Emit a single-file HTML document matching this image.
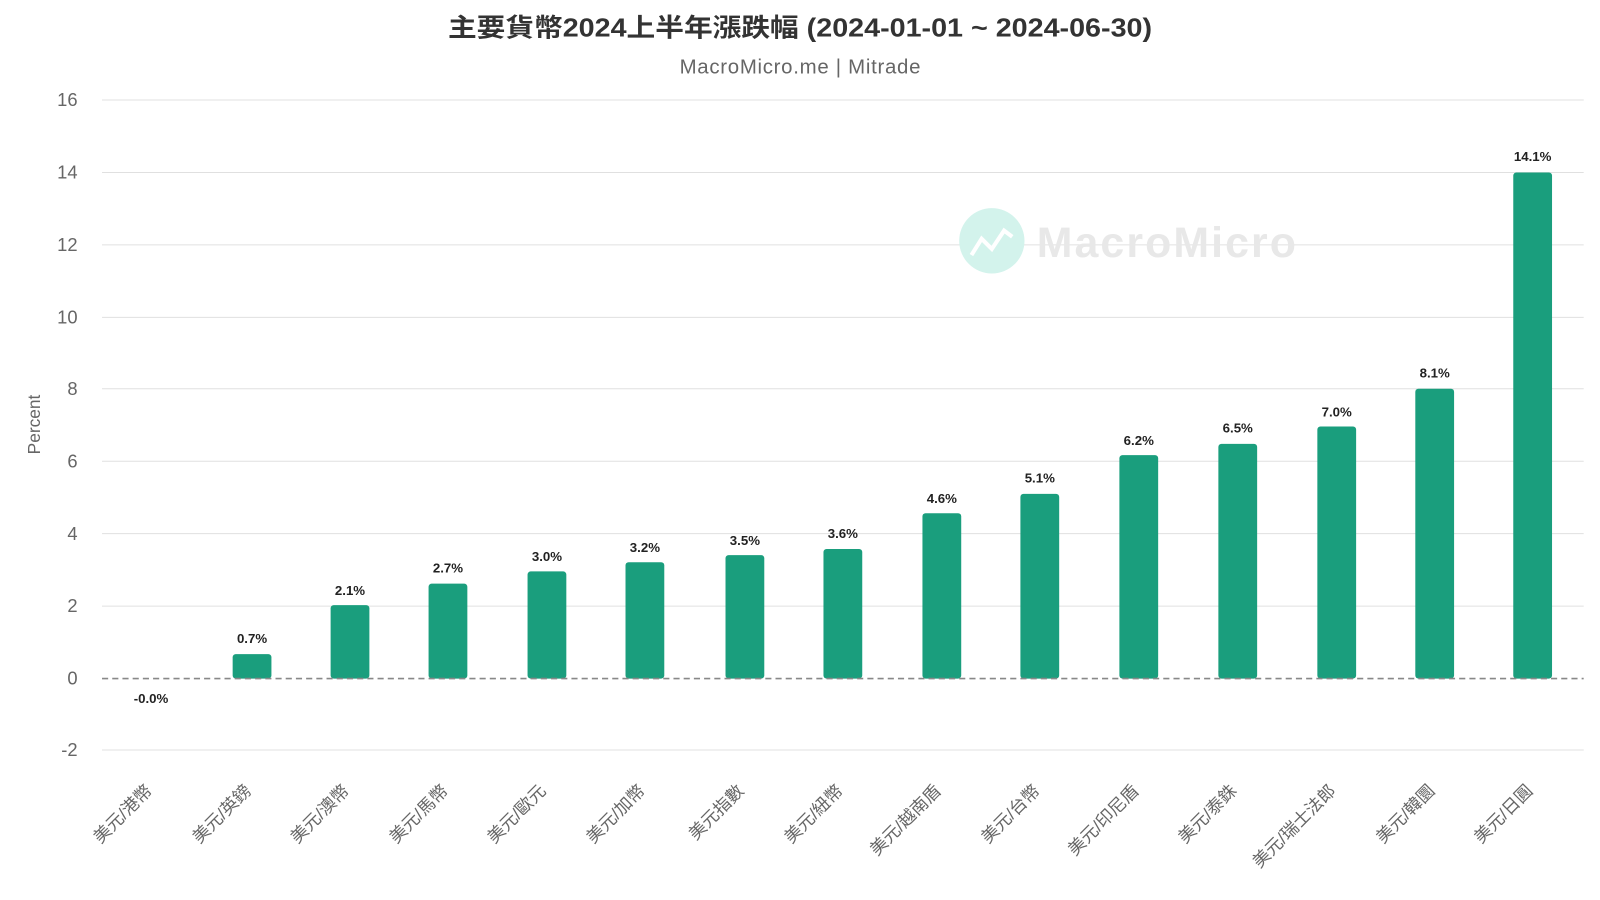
<!DOCTYPE html>
<html><head><meta charset="utf-8"><style>
body{margin:0;background:#fff;}
svg{display:block;font-family:"Liberation Sans","Noto Sans CJK TC",sans-serif;}
</style></head><body>
<svg width="1600" height="900" viewBox="0 0 1568 882" xmlns="http://www.w3.org/2000/svg">
<text x="784" y="36" text-anchor="middle" font-size="25" font-weight="bold" fill="#333" textLength="690" lengthAdjust="spacingAndGlyphs">主要貨幣2024上半年漲跌幅 (2024-01-01 ~ 2024-06-30)</text>
<text x="784" y="72" text-anchor="middle" font-size="20" fill="#666" textLength="236">MacroMicro.me | Mitrade</text>
<g stroke="#e0e0e0" stroke-width="1">
<line x1="100" x2="1552" y1="98" y2="98"/><line x1="100" x2="1552" y1="169" y2="169"/>
<line x1="100" x2="1552" y1="240" y2="240"/><line x1="100" x2="1552" y1="311" y2="311"/>
<line x1="100" x2="1552" y1="381" y2="381"/><line x1="100" x2="1552" y1="452" y2="452"/>
<line x1="100" x2="1552" y1="523" y2="523"/><line x1="100" x2="1552" y1="594" y2="594"/>
<line x1="100" x2="1552" y1="735" y2="735"/>
</g>
<g font-size="18" fill="#666" text-anchor="end">
<text x="76" y="104">16</text><text x="76" y="175">14</text><text x="76" y="246">12</text>
<text x="76" y="317">10</text><text x="76" y="387">8</text><text x="76" y="458">6</text>
<text x="76" y="529">4</text><text x="76" y="600">2</text><text x="76" y="671">0</text>
<text x="76" y="741">-2</text>
</g>
<text transform="translate(39,416) rotate(-90)" text-anchor="middle" font-size="17" fill="#666">Percent</text>
<circle cx="972" cy="236" r="32" fill="#d3f3ec"/>
<polyline points="952,250 962,234 972,244 984,226 992,232" fill="none" stroke="#fff" stroke-width="4"/>
<text x="1016" y="252" font-size="42" font-weight="bold" fill="#e8e8e8" textLength="254">MacroMicro</text>
<g fill="#1a9e7d">
<rect x="228" y="641" width="38" height="24" rx="3"/>
<rect x="324" y="593" width="38" height="72" rx="3"/>
<rect x="420" y="572" width="38" height="93" rx="3"/>
<rect x="517" y="560" width="38" height="105" rx="3"/>
<rect x="613" y="551" width="38" height="114" rx="3"/>
<rect x="711" y="544" width="38" height="121" rx="3"/>
<rect x="807" y="538" width="38" height="127" rx="3"/>
<rect x="904" y="503" width="38" height="162" rx="3"/>
<rect x="1000" y="484" width="38" height="181" rx="3"/>
<rect x="1097" y="446" width="38" height="219" rx="3"/>
<rect x="1194" y="435" width="38" height="230" rx="3"/>
<rect x="1291" y="418" width="38" height="247" rx="3"/>
<rect x="1387" y="381" width="38" height="284" rx="3"/>
<rect x="1483" y="169" width="38" height="496" rx="3"/>
</g>
<line x1="100" x2="1552" y1="665" y2="665" stroke="#888" stroke-width="1.5" stroke-dasharray="6,4"/>
<g font-size="13" font-weight="bold" fill="#222" text-anchor="middle">
<text x="148" y="689">-0.0%</text><text x="247" y="630">0.7%</text><text x="343" y="583">2.1%</text>
<text x="439" y="561">2.7%</text><text x="536" y="550">3.0%</text><text x="632" y="541">3.2%</text>
<text x="730" y="534">3.5%</text><text x="826" y="527">3.6%</text><text x="923" y="493">4.6%</text>
<text x="1019" y="473">5.1%</text><text x="1116" y="436">6.2%</text><text x="1213" y="424">6.5%</text>
<text x="1310" y="408">7.0%</text><text x="1406" y="370">8.1%</text><text x="1502" y="158">14.1%</text>
</g>
<g font-size="17" fill="#666" text-anchor="end">
<text transform="translate(150,776) rotate(-45)">美元/港幣</text>
<text transform="translate(247,776) rotate(-45)">美元/英鎊</text>
<text transform="translate(343,776) rotate(-45)">美元/澳幣</text>
<text transform="translate(440,776) rotate(-45)">美元/馬幣</text>
<text transform="translate(536,776) rotate(-45)">美元/歐元</text>
<text transform="translate(633,776) rotate(-45)">美元/加幣</text>
<text transform="translate(730,776) rotate(-45)">美元指數</text>
<text transform="translate(827,776) rotate(-45)">美元/紐幣</text>
<text transform="translate(923,776) rotate(-45)">美元/越南盾</text>
<text transform="translate(1020,776) rotate(-45)">美元/台幣</text>
<text transform="translate(1117,776) rotate(-45)">美元/印尼盾</text>
<text transform="translate(1213,776) rotate(-45)">美元/泰銖</text>
<text transform="translate(1310,776) rotate(-45)">美元/瑞士法郎</text>
<text transform="translate(1407,776) rotate(-45)">美元/韓圜</text>
<text transform="translate(1503,776) rotate(-45)">美元/日圓</text>
</g>
</svg>
</body></html>
